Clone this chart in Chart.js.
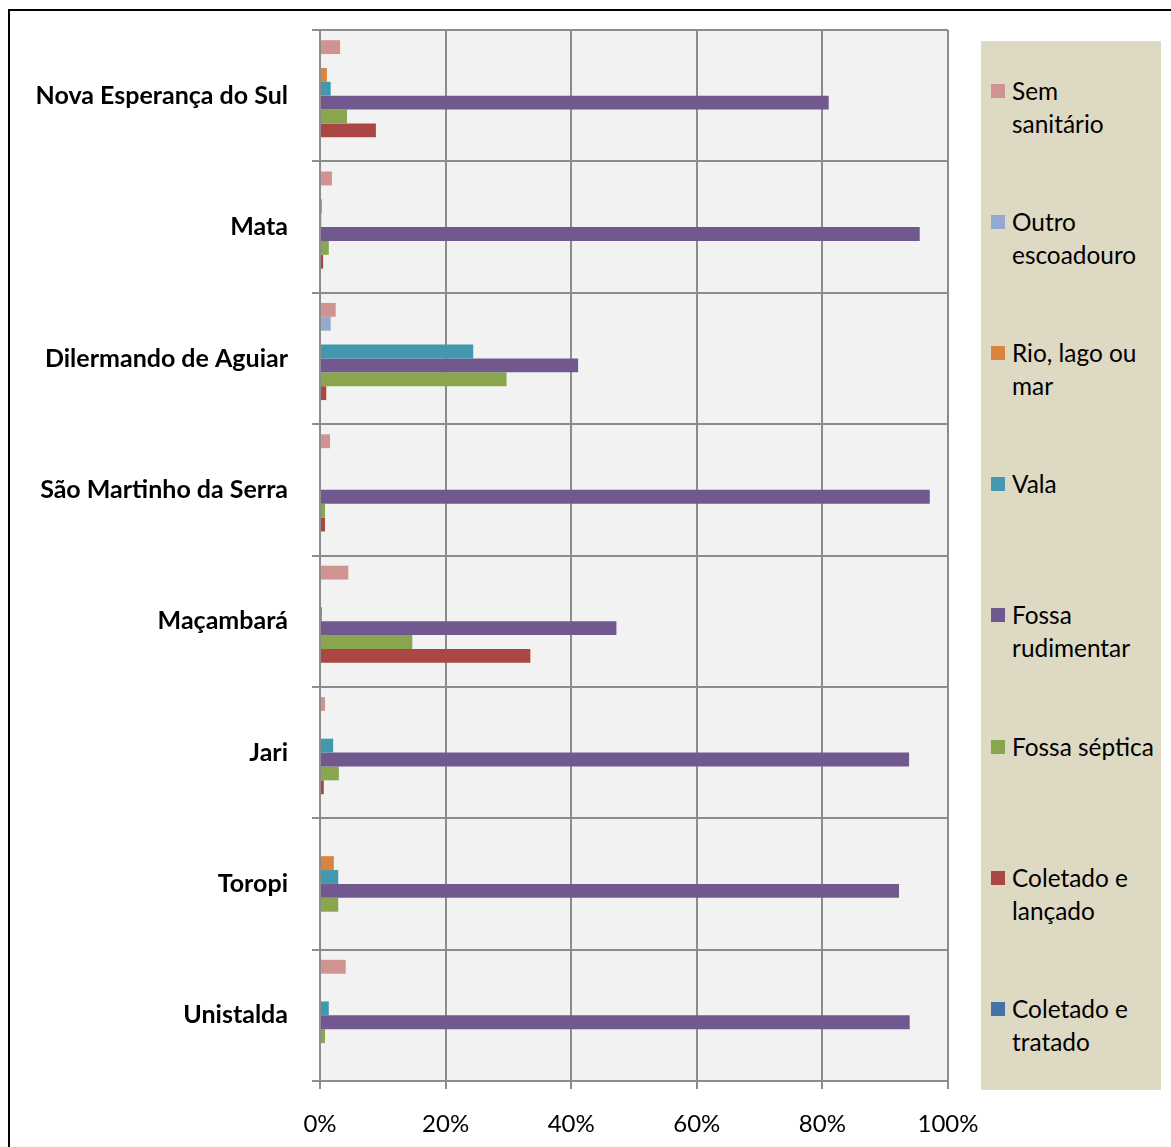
<!DOCTYPE html>
<html>
<head>
<meta charset="utf-8">
<script src="https://cdn.jsdelivr.net/npm/chart.js@4.4.0/dist/chart.umd.min.js"></script>
<style>
  body { margin: 0; width: 1171px; height: 1147px; overflow: hidden; background: #fff; position: relative; font-family: Lato, sans-serif; }
  #frame { position: absolute; left: 8px; top: 9px; width: 1300px; height: 1300px; border: 2px solid #000; box-sizing: border-box; }
  #wrap { position: absolute; left: 0; top: 0; width: 1000px; height: 1147px; }
  #legend { position: absolute; left: 981px; top: 41px; width: 180px; height: 1049px; background: #ddd9c3; z-index: 2; }
  .item { position: absolute; left: 0; width: 180px; font-size: 24.4px; line-height: 33px; color: #000; }
  .item .box { position: absolute; left: 10px; top: 10px; width: 14px; height: 14px; }
  .item .txt { position: absolute; left: 31px; top: 0; white-space: pre; }
</style>
</head>
<body>
<div id="frame"></div>
<div id="wrap"><canvas id="chart"></canvas></div>
<div id="legend"></div>
<script>
const categories = ['Nova Esperança do Sul', 'Mata', 'Dilermando de Aguiar', 'São Martinho da Serra', 'Maçambará', 'Jari', 'Toropi', 'Unistalda'];

// percent of households per type of sewage destination
const semSanitario    = [3.2, 1.9, 2.5, 1.6, 4.5, 0.8, 0, 4.1];
const outroEscoadouro = [0, 0, 1.7, 0, 0, 0, 0, 0];
const rioLagoMar      = [1.1, 0.3, 0, 0, 0, 0, 2.2, 0];
const vala            = [1.7, 0.2, 24.4, 0, 0.3, 2.1, 2.9, 1.4];
const fossaRudimentar = [81.0, 95.5, 41.1, 97.1, 47.2, 93.8, 92.2, 93.9];
const fossaSeptica    = [4.3, 1.4, 29.7, 0.8, 14.7, 3.0, 2.9, 0.8];
const coletadoLancado = [8.9, 0.5, 1.0, 0.8, 33.5, 0.6, 0, 0];
const coletadoTratado = [0, 0, 0, 0, 0, 0, 0, 0];

const seriesNames = ['Sem sanitário', 'Outro escoadouro', 'Rio, lago ou mar', 'Vala', 'Fossa rudimentar', 'Fossa séptica', 'Coletado e lançado', 'Coletado e tratado'];
const legendText = ['Sem\nsanitário', 'Outro\nescoadouro', 'Rio, lago ou\nmar', 'Vala', 'Fossa\nrudimentar', 'Fossa séptica', 'Coletado e\nlançado', 'Coletado e\ntratado'];
const xTicks = [0, 20, 40, 60, 80, 100];

const series = [semSanitario, outroEscoadouro, rioLagoMar, vala, fossaRudimentar, fossaSeptica, coletadoLancado, coletadoTratado];
const colors = ['#d19392', '#93a9cf', '#db843d', '#4198af', '#71588f', '#89a54e', '#aa4643', '#4572a7'];

const plotBg = {
    id: 'plotBg',
    beforeDraw(chart) {
        const { ctx, chartArea: a } = chart;
        ctx.save();
        ctx.fillStyle = '#f2f2f2';
        ctx.fillRect(a.left, a.top, a.width, a.height);
        ctx.restore();
    }
};

const gridColor = '#8c8c8c';

const chart = new Chart(document.getElementById('chart').getContext('2d'), {
    type: 'bar',
    data: {
        labels: categories,
        datasets: series.map((d, i) => ({
            label: seriesNames[i],
            data: d,
            backgroundColor: colors[i],
            borderWidth: 0,
            categoryPercentage: 0.845,
            barPercentage: 1.0
        }))
    },
    options: {
        indexAxis: 'y',
        responsive: true,
        maintainAspectRatio: false,
        animation: false,
        layout: { padding: { top: 30, right: 52, left: 0, bottom: 0 } },
        plugins: {
            legend: { display: false },
            tooltip: { enabled: false }
        },
        scales: {
            x: {
                min: 0,
                max: 100,
                afterBuildTicks: s => { s.ticks = xTicks.map(v => ({ value: v })); },
                afterFit: s => { s.height = 66; },
                ticks: {
                    callback: v => v + '%',
                    color: '#000',
                    font: { family: 'Lato', size: 24 },
                    padding: 21
                },
                grid: { color: gridColor, lineWidth: 2, tickLength: 8 },
                border: { display: false }
            },
            y: {
                afterFit: s => {
                    s.width = 320;
                    s.paddingTop = 0;
                    s.paddingBottom = 0;
                },
                ticks: {
                    color: '#000',
                    font: { family: 'Lato', size: 25, weight: 'bold' },
                    padding: 24
                },
                grid: { offset: true, color: gridColor, lineWidth: 2, tickLength: 8 },
                border: { display: false }
            }
        }
    },
    plugins: [plotBg]
});

// legend built from the datasets
const legend = document.getElementById('legend');
chart.data.datasets.forEach((ds, i) => {
    const item = document.createElement('div');
    item.className = 'item';
    item.style.top = (32.5 + i * 131.2) + 'px';
    item.innerHTML = '<div class="box" style="background:' + ds.backgroundColor + '"></div><div class="txt"></div>';
    item.querySelector('.txt').textContent = legendText[i];
    legend.appendChild(item);
});
</script>
</body>
</html>
